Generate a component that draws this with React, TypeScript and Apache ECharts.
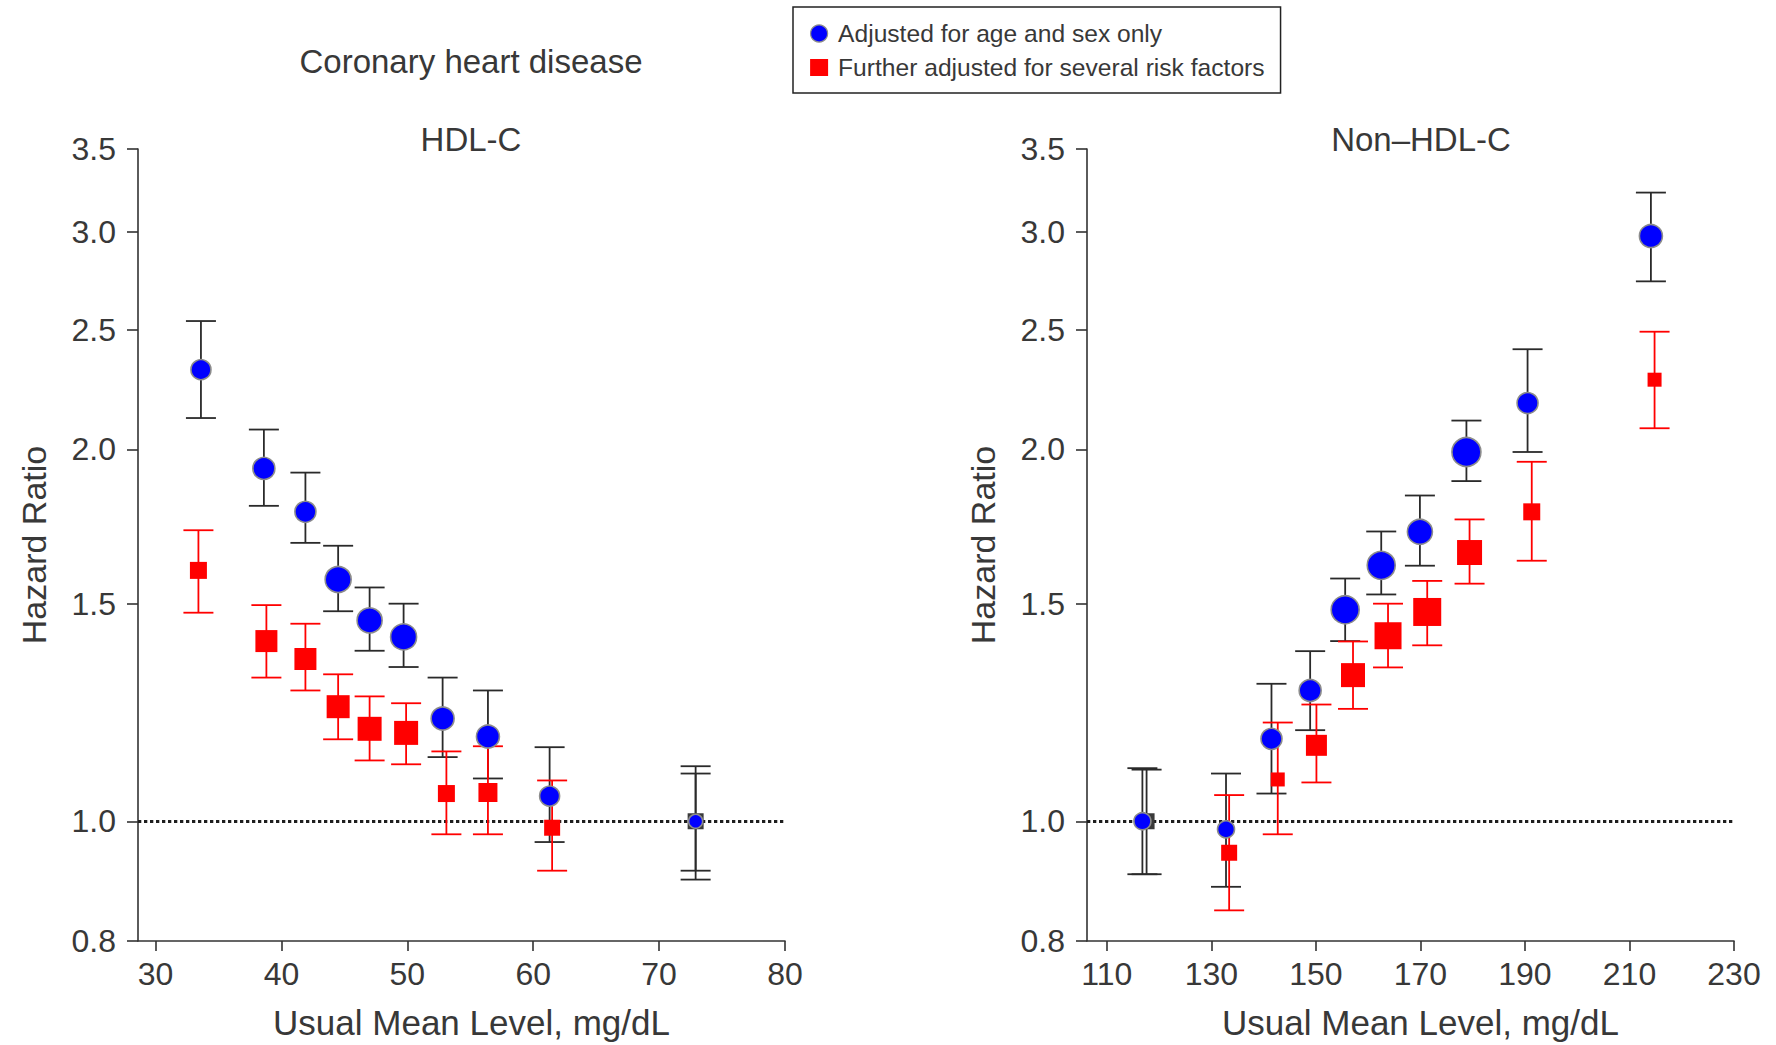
import React, { useEffect, useRef } from "react";
import * as echarts from "echarts";

// ---------- data ----------
const hrTicks = [0.8, 1.0, 1.5, 2.0, 2.5, 3.0, 3.5];
const hdlTicks = [30, 40, 50, 60, 70, 80];
const nonHdlTicks = [110, 130, 150, 170, 190, 210, 230];

const legendNames = ["Adjusted for age and sex only", "Further adjusted for several risk factors"];

// HDL-C, adjusted for age and sex only
const hdlAgeSexX = [33.6, 38.6, 41.9, 44.5, 47.0, 49.7, 52.8, 56.4, 61.3, 72.9];
const hdlAgeSexHR = [2.32, 1.93, 1.78, 1.569, 1.454, 1.41, 1.211, 1.171, 1.048, 1.0];
const hdlAgeSexLo = [2.12, 1.8, 1.68, 1.479, 1.374, 1.333, 1.127, 1.083, 0.962, 0.897];
const hdlAgeSexHi = [2.54, 2.075, 1.915, 1.671, 1.546, 1.5, 1.307, 1.276, 1.148, 1.108];
const hdlAgeSexSize = [20, 22, 21, 26, 25, 26, 23, 23, 20, 14];

// HDL-C, further adjusted
const hdlRiskX = [33.4, 38.8, 41.9, 44.5, 47.0, 49.9, 53.1, 56.4, 61.5, 72.9];
const hdlRiskHR = [1.596, 1.399, 1.353, 1.238, 1.188, 1.179, 1.053, 1.055, 0.988, 1.0];
const hdlRiskLo = [1.475, 1.307, 1.276, 1.165, 1.12, 1.112, 0.976, 0.976, 0.912, 0.912];
const hdlRiskHi = [1.72, 1.496, 1.445, 1.315, 1.262, 1.246, 1.139, 1.15, 1.079, 1.093];
const hdlRiskSize = [17, 22, 22, 23, 24, 24, 17, 19, 16, 16];

// Non-HDL-C, adjusted for age and sex only
const nonAgeSexX = [116.8, 132.8, 141.5, 148.9, 155.6, 162.5, 169.9, 178.8, 190.5, 214.1];
const nonAgeSexHR = [1.0, 0.985, 1.166, 1.276, 1.483, 1.611, 1.715, 1.99, 2.18, 2.976];
const nonAgeSexLo = [0.906, 0.885, 1.053, 1.185, 1.399, 1.526, 1.61, 1.885, 1.99, 2.735];
const nonAgeSexHi = [1.104, 1.093, 1.292, 1.373, 1.572, 1.716, 1.835, 2.11, 2.41, 3.227];
const nonAgeSexSize = [17, 17, 21, 22, 28, 28, 25, 29, 21, 23];

// Non-HDL-C, further adjusted
const nonRiskX = [117.6, 133.4, 142.7, 150.1, 157.1, 163.8, 171.3, 179.4, 191.3, 214.8];
const nonRiskHR = [1.0, 0.943, 1.081, 1.152, 1.313, 1.413, 1.477, 1.65, 1.78, 2.277];
const nonRiskLo = [0.906, 0.847, 0.976, 1.075, 1.233, 1.332, 1.388, 1.557, 1.625, 2.08];
const nonRiskHi = [1.101, 1.05, 1.202, 1.243, 1.398, 1.5, 1.565, 1.755, 1.954, 2.49];
const nonRiskSize = [16, 16, 14, 21, 24, 27, 28, 25, 17, 14];

// ---------- styling ----------
const FONT = "'Liberation Sans', Arial, Helvetica, sans-serif";
const TEXT = "#383838";
const BLUE = "#0000ff";
const RED = "#ff0000";
const BAR_BLACK = "#2a2a2a";
const REF_DARK = "#3a3a3a";

function errData(x: number[], lo: number[], hi: number[], hr: number[]) {
  return x.map((v, i) => [v, lo[i], hi[i], hr[i]]);
}
function ptData(x: number[], hr: number[]) {
  return x.map((v, i) => [v, hr[i]]);
}

function errorBarSeries(name: string, idx: number, data: number[][], color: string, z: number) {
  return {
    type: "custom",
    name,
    xAxisIndex: idx,
    yAxisIndex: idx,
    silent: true,
    z,
    encode: { x: 0, y: [1, 2] },
    data,
    renderItem: (params: any, api: any) => {
      const x = api.value(0);
      const lo = api.value(1);
      const hi = api.value(2);
      const hr = api.value(3);
      const top = api.coord([x, hi]);
      const bot = api.coord([x, lo]);
      const hw = 15;
      const c = hr === 1 ? BAR_BLACK : color;
      const st = { stroke: c, lineWidth: 1.8 };
      return {
        type: "group",
        children: [
          { type: "line", shape: { x1: top[0], y1: top[1], x2: bot[0], y2: bot[1] }, style: st },
          { type: "line", shape: { x1: top[0] - hw, y1: top[1], x2: top[0] + hw, y2: top[1] }, style: st },
          { type: "line", shape: { x1: bot[0] - hw, y1: bot[1], x2: bot[0] + hw, y2: bot[1] }, style: st },
        ],
      };
    },
  };
}

function circleSeries(idx: number, data: number[][], sizes: number[]) {
  return {
    type: "scatter",
    name: legendNames[0],
    xAxisIndex: idx,
    yAxisIndex: idx,
    silent: true,
    z: 5,
    symbol: "circle",
    symbolSize: (_v: any, p: any) => sizes[p.dataIndex],
    itemStyle: { color: BLUE, borderColor: "#8c8c8c", borderWidth: 1.6, opacity: 1 },
    data,
  };
}

function squareSeries(idx: number, data: number[][], sizes: number[]) {
  return {
    type: "scatter",
    name: legendNames[1],
    xAxisIndex: idx,
    yAxisIndex: idx,
    silent: true,
    z: 4,
    symbol: "rect",
    symbolSize: (_v: any, p: any) => sizes[p.dataIndex],
    itemStyle: {
      color: (p: any) => (p.value[1] === 1 ? REF_DARK : RED),
      opacity: 1,
    },
    data,
    markLine: {
      silent: true,
      symbol: "none",
      label: { show: false },
      lineStyle: { type: [3.3, 2.7], width: 3.2, color: "#1e1e1e" },
      data: [{ yAxis: 1 }],
      z: 1,
    },
  };
}

function xAxisFor(idx: number, min: number, max: number, ticks: number[]) {
  return {
    type: "value",
    gridIndex: idx,
    min,
    max,
    name: "Usual Mean Level, mg/dL",
    nameLocation: "middle",
    nameGap: 64,
    nameTextStyle: { fontSize: 35, color: TEXT, fontFamily: FONT, padding: [0, 0, 0, 20] },
    axisLine: { onZero: false, lineStyle: { color: "#333", width: 1.6 } },
    axisTick: { customValues: ticks, length: 10, lineStyle: { color: "#333", width: 1.6 } },
    axisLabel: { customValues: ticks, margin: 17, fontSize: 32, color: TEXT, fontFamily: FONT },
    splitLine: { show: false },
  };
}

function yAxisFor(idx: number) {
  return {
    type: "log",
    logBase: 10,
    gridIndex: idx,
    min: 0.8,
    max: 3.5,
    name: "Hazard Ratio",
    nameLocation: "middle",
    nameGap: 87,
    nameTextStyle: { fontSize: 34, color: TEXT, fontFamily: FONT },
    axisLine: { lineStyle: { color: "#333", width: 1.6 } },
    axisTick: { customValues: hrTicks, length: 11, lineStyle: { color: "#333", width: 1.6 } },
    minorTick: { show: false },
    axisLabel: {
      customValues: hrTicks,
      margin: 22,
      fontSize: 32,
      color: TEXT,
      fontFamily: FONT,
      formatter: (v: number) => Number(v).toFixed(1),
    },
    splitLine: { show: false },
  };
}

export default function App() {
  const ref = useRef<HTMLDivElement>(null);
  useEffect(() => {
    if (!ref.current) return;
    const chart = echarts.init(ref.current, undefined, { renderer: "svg" });
    chart.setOption({
      animation: false,
      backgroundColor: "#ffffff",
      grid: [
        { left: 138, top: 149, width: 647, height: 793 },
        { left: 1087, top: 149, width: 647, height: 793 },
      ],
      xAxis: [xAxisFor(0, 28.6, 80, hdlTicks), xAxisFor(1, 106.2, 230, nonHdlTicks)],
      yAxis: [yAxisFor(0), yAxisFor(1)],
      legend: {
        left: 793,
        top: 7,
        orient: "vertical",
        selectedMode: false,
        padding: [14, 16, 13, 17],
        itemGap: 9,
        itemWidth: 18,
        itemHeight: 17,
        borderColor: "#222",
        borderWidth: 1.5,
        textStyle: { fontSize: 24.6, color: TEXT, fontFamily: FONT, padding: [0, 0, 0, 5] },
        data: [
          { name: legendNames[0], icon: "circle", itemStyle: { color: BLUE, borderColor: "#8c8c8c", borderWidth: 1.2 } },
          { name: legendNames[1], icon: "rect", itemStyle: { color: RED, borderWidth: 0 } },
        ],
      },
      graphic: [
        { type: "text", x: 471, y: 61, style: { text: "Coronary heart disease", fill: TEXT, fontSize: 33, fontFamily: FONT, textAlign: "center", textVerticalAlign: "middle" } },
        { type: "text", x: 471, y: 139, style: { text: "HDL-C", fill: TEXT, fontSize: 33, fontFamily: FONT, textAlign: "center", textVerticalAlign: "middle" } },
        { type: "text", x: 1421, y: 139, style: { text: "Non\u2013HDL-C", fill: TEXT, fontSize: 33, fontFamily: FONT, textAlign: "center", textVerticalAlign: "middle" } },
      ],
      series: [
        errorBarSeries("hdlAgeSexCI", 0, errData(hdlAgeSexX, hdlAgeSexLo, hdlAgeSexHi, hdlAgeSexHR), BAR_BLACK, 2),
        errorBarSeries("hdlRiskCI", 0, errData(hdlRiskX, hdlRiskLo, hdlRiskHi, hdlRiskHR), RED, 3),
        squareSeries(0, ptData(hdlRiskX, hdlRiskHR), hdlRiskSize),
        circleSeries(0, ptData(hdlAgeSexX, hdlAgeSexHR), hdlAgeSexSize),
        errorBarSeries("nonAgeSexCI", 1, errData(nonAgeSexX, nonAgeSexLo, nonAgeSexHi, nonAgeSexHR), BAR_BLACK, 2),
        errorBarSeries("nonRiskCI", 1, errData(nonRiskX, nonRiskLo, nonRiskHi, nonRiskHR), RED, 3),
        squareSeries(1, ptData(nonRiskX, nonRiskHR), nonRiskSize),
        circleSeries(1, ptData(nonAgeSexX, nonAgeSexHR), nonAgeSexSize),
      ],
    });
    return () => chart.dispose();
  }, []);
  return (
    <div
      ref={ref}
      style={{ position: "fixed", left: 0, top: 0, width: 1776, height: 1045, background: "#fff" }}
    />
  );
}
